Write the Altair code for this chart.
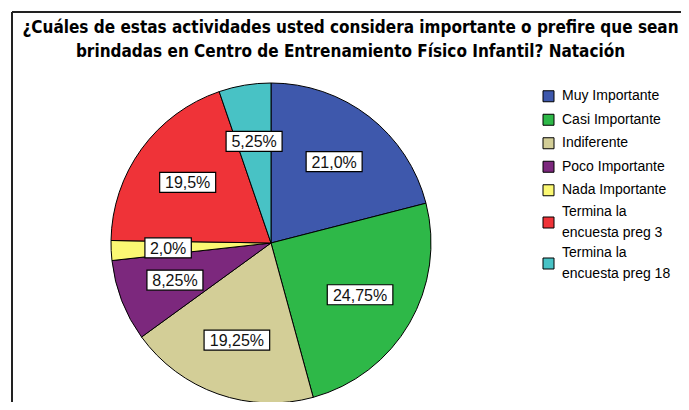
import altair as alt
import pandas as pd

categories = ["Muy Importante", "Casi Importante", "Indiferente", "Poco Importante",
              "Nada Importante", "Termina la\nencuesta preg 3", "Termina la\nencuesta preg 18"]
values = [21.0, 24.75, 19.25, 8.25, 2.0, 19.5, 5.25]
labels = ["21,0%", "24,75%", "19,25%", "8,25%", "2,0%", "19,5%", "5,25%"]
colors = ["#3E58AC", "#2EB848", "#D3CE97", "#7C287D", "#FBF873", "#EF3338", "#48C2C5"]
title_lines = ["¿Cuáles de estas actividades usted considera importante o prefire que sean",
               "brindadas en Centro de Entrenamiento Físico Infantil? Natación"]

df = pd.DataFrame({"cat": categories, "value": values, "label": labels,
                   "order": list(range(len(categories)))})

CX, CY, R, LR = 263, 235, 160, 103
W, H = 673, 394
LEG_X, LEG_Y0 = 540.5, 76.5
LH = 21

color_scale = alt.Scale(domain=categories, range=colors)
base = alt.Chart(df)

pie = base.mark_arc(outerRadius=R, stroke="black", strokeWidth=1).encode(
    theta=alt.Theta("value:Q", stack=True),
    order=alt.Order("order:Q"),
    color=alt.Color("cat:N", scale=color_scale, legend=None),
    x=alt.value(CX), y=alt.value(CY),
)

pos = base.transform_window(
    cum="sum(value)", sort=[alt.SortField("order")], frame=[None, 0]
).transform_joinaggregate(total="sum(value)").transform_calculate(
    ang="(datum.cum - datum.value/2) / datum.total * 2 * PI",
).transform_calculate(
    px=f"{CX} + {LR} * sin(datum.ang)",
    py=f"{CY} - {LR} * cos(datum.ang)",
    hw="length(datum.label) * 4.8 + 4",
).transform_calculate(
    x1="datum.px - datum.hw", x2="datum.px + datum.hw",
    y1="datum.py - 10", y2="datum.py + 10",
)

boxes = pos.mark_rect(fill="white", stroke="black", strokeWidth=1.2).encode(
    x=alt.X("x1:Q", scale=None), x2="x2:Q",
    y=alt.Y("y1:Q", scale=None), y2="y2:Q",
)

texts = pos.mark_text(font="Liberation Sans", fontSize=16, color="#111",
                      align="center", baseline="middle", dy=1).encode(
    x=alt.X("px:Q", scale=None), y=alt.Y("py:Q", scale=None), text="label:N",
)

# legend built from the same categories
leg = base.transform_calculate(
    lines="split(datum.cat, '\\n')",
).transform_calculate(
    nl="length(datum.lines)",
).transform_calculate(
    h="23.5 + 17.5 * (datum.nl - 1)",
).transform_window(
    cumh="sum(h)", sort=[alt.SortField("order")], frame=[None, 0]
).transform_calculate(
    ly=f"{LEG_Y0} + datum.cumh - datum.h / 2",
).transform_calculate(
    ty=f"datum.ly - {LH / 2} * (datum.nl - 1)",
)

leg_sym = leg.mark_square(size=121, opacity=1, filled=True, stroke="black", strokeWidth=1).encode(
    x=alt.value(LEG_X), y=alt.Y("ly:Q", scale=None),
    color=alt.Color("cat:N", scale=color_scale, legend=None),
)
leg_txt = leg.mark_text(font="Liberation Sans", fontSize=14, color="black",
                        align="left", baseline="middle", lineHeight=LH).encode(
    x=alt.value(LEG_X + 13.5), y=alt.Y("ty:Q", scale=None), text="lines:N",
)

frame_left = alt.Chart(df).mark_rule(color="#222", strokeWidth=2).encode(
    x=alt.value(4), y=alt.value(4), y2=alt.value(H))
frame_top = alt.Chart(df).mark_rule(color="#222", strokeWidth=2).encode(
    x=alt.value(4), x2=alt.value(W), y=alt.value(4))

chart = alt.layer(frame_left, frame_top, pie, boxes, texts, leg_sym, leg_txt).properties(
    width=W, height=H,
    autosize=alt.AutoSizeParams(type="none"),
    padding=0,
    title=alt.TitleParams(text=title_lines, font="DejaVu Sans Condensed", fontSize=17,
                          fontWeight="bold", color="black", anchor="middle",
                          orient="top", baseline="top", dy=57, dx=6, lineHeight=24),
).configure_view(stroke=None)

chart.save("out.html", embed_options={"renderer": "svg", "actions": False})
